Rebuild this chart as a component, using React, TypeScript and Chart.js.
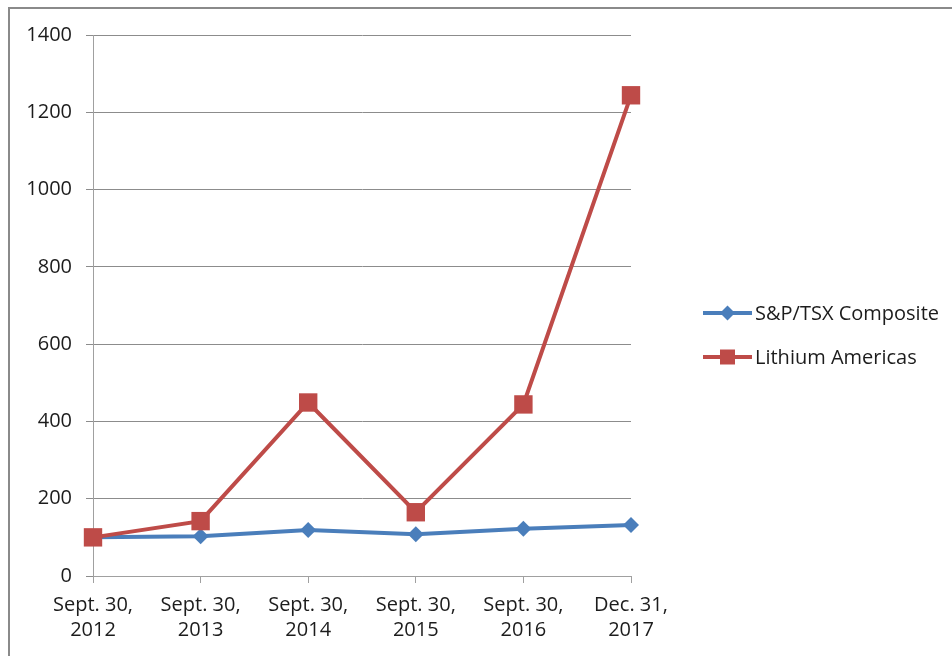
import React, { useEffect, useRef } from "react";
import { Chart, registerables } from "chart.js";

Chart.register(...registerables);

const categories: string[][] = [
  ["Sept. 30,", "2012"],
  ["Sept. 30,", "2013"],
  ["Sept. 30,", "2014"],
  ["Sept. 30,", "2015"],
  ["Sept. 30,", "2016"],
  ["Dec. 31,", "2017"],
];
const tsxLabel = "S&P/TSX Composite";
const tsxValues = [100, 103, 119, 108, 122, 132];
const lacLabel = "Lithium Americas";
const lacValues = [100, 142, 449, 165, 444, 1244];
const yMin = 0;
const yMax = 1400;
const yStep = 200;

const BLUE = "#4a7ebb";
const RED = "#be4b48";
const FONT = "'Open Sans', 'DejaVu Sans', sans-serif";

const legendPlugin = {
  id: "excelLegend",
  afterDraw(chart: any) {
    const ctx = chart.ctx as CanvasRenderingContext2D;
    const items = [
      { label: tsxLabel, color: BLUE, shape: "diamond", y: 304 },
      { label: lacLabel, color: RED, shape: "square", y: 348 },
    ];
    const x0 = 693;
    const x1 = 742;
    const cx = (x0 + x1) / 2;
    ctx.save();
    for (const it of items) {
      ctx.strokeStyle = it.color;
      ctx.lineWidth = 4;
      ctx.beginPath();
      ctx.moveTo(x0, it.y);
      ctx.lineTo(x1, it.y);
      ctx.stroke();
      ctx.fillStyle = it.color;
      ctx.beginPath();
      if (it.shape === "diamond") {
        const r = 7.5;
        ctx.moveTo(cx - r, it.y);
        ctx.lineTo(cx, it.y - r);
        ctx.lineTo(cx + r, it.y);
        ctx.lineTo(cx, it.y + r);
        ctx.closePath();
      } else {
        const s = 7.5;
        ctx.rect(cx - s, it.y - s, 2 * s, 2 * s);
      }
      ctx.fill();
      ctx.fillStyle = "#1c1c1c";
      ctx.font = `20px ${FONT}`;
      ctx.textBaseline = "middle";
      ctx.textAlign = "left";
      ctx.fillText(it.label, 745, it.y + 1);
    }
    ctx.restore();
  },
};

export default function App() {
  const ref = useRef<HTMLCanvasElement | null>(null);

  useEffect(() => {
    if (!ref.current) return;
    const chart = new Chart(ref.current, {
      type: "line",
      data: {
        labels: categories,
        datasets: [
          {
            label: tsxLabel,
            data: tsxValues,
            borderColor: BLUE,
            backgroundColor: BLUE,
            borderWidth: 4,
            pointStyle: "rectRot",
            pointRadius: 8,
            pointBorderWidth: 0,
            pointBackgroundColor: BLUE,
            pointBorderColor: BLUE,
            tension: 0,
            order: 1,
            clip: false,
          },
          {
            label: lacLabel,
            data: lacValues,
            borderColor: RED,
            backgroundColor: RED,
            borderWidth: 4,
            pointStyle: "rect",
            pointRadius: 13,
            pointBorderWidth: 0,
            pointBackgroundColor: RED,
            pointBorderColor: RED,
            tension: 0,
            order: 0,
            clip: false,
          },
        ],
      },
      options: {
        responsive: false,
        animation: false,
        devicePixelRatio: 1,
        layout: {
          autoPadding: false,
          padding: { top: 24, right: 321, left: 0, bottom: 0 },
        },
        plugins: {
          legend: { display: false },
          tooltip: { enabled: false },
        },
        scales: {
          x: {
            offset: false,
            grid: {
              display: true,
              drawOnChartArea: false,
              drawTicks: true,
              tickLength: 7,
              color: "#a0a0a0",
              lineWidth: 1,
            },
            border: { display: true, color: "#a0a0a0", width: 1 },
            ticks: {
              color: "#1c1c1c",
              font: { family: FONT, size: 20, lineHeight: 1.25 },
              padding: 10,
              maxRotation: 0,
              autoSkip: false,
            },
            afterFit: (scale: any) => {
              scale.height = 80;
            },
          },
          y: {
            min: yMin,
            max: yMax,
            grid: {
              color: "#8c8c8c",
              lineWidth: 1,
              drawTicks: true,
              tickLength: 7,
            },
            border: { display: true, color: "#a0a0a0", width: 1 },
            ticks: {
              stepSize: yStep,
              color: "#1c1c1c",
              font: { family: FONT, size: 20 },
              padding: 14,
              callback: (v: any) => String(v),
            },
            afterFit: (scale: any) => {
              scale.width = 83;
            },
          },
        },
      },
      plugins: [legendPlugin],
    });
    return () => chart.destroy();
  }, []);

  return (
    <div
      style={{
        position: "fixed",
        left: 8,
        top: 7,
        width: 944,
        height: 649,
        borderTop: "2px solid #8a8a8a",
        borderLeft: "2px solid #8a8a8a",
        background: "#fff",
      }}
    >
      <canvas ref={ref} width={942} height={647} style={{ display: "block" }} />
    </div>
  );
}
